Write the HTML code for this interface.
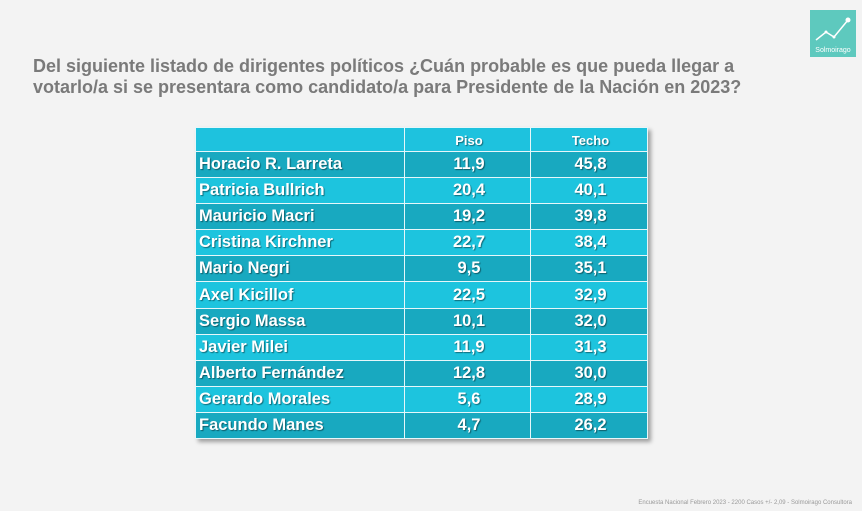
<!DOCTYPE html>
<html><head><meta charset="utf-8"><style>
body{margin:0;width:862px;height:511px;background:#f3f3f3;font-family:"Liberation Sans",sans-serif;position:relative;overflow:hidden}
.t{position:absolute;left:33px;top:56px;font-size:18px;font-weight:bold;color:#7a7a7a;line-height:21px}
table{position:absolute;left:195px;top:127px;border-collapse:collapse;box-shadow:3px 3px 4px rgba(0,0,0,.35)}
td{border:1px solid #e6f7fa;color:#fff;font-weight:bold;font-size:16.5px;height:25.1px;padding:0 0 0 3px;text-shadow:1px 1px 1px rgba(0,0,0,.45);text-align:center}
td:first-child{text-align:left;width:205px}
td:nth-child(2){width:122px}td:nth-child(3){width:113px}
tr.h td{height:21px;font-size:13px;padding-top:2px;background:#1ec2de}
tr:nth-child(even) td{background:#18a9c0}
tr:nth-child(odd):not(.h) td{background:#1dc4de}
.logo{position:absolute;left:810px;top:10px;width:46px;height:47px;background:#5ec9be}
.f{position:absolute;right:10px;top:500px;font-size:6px;color:#999}
</style></head><body>
<div class="t">Del siguiente listado de dirigentes políticos ¿Cuán probable es que pueda llegar a<br>votarlo/a si se presentara como candidato/a para Presidente de la Nación en 2023?</div>
<div class="logo"><svg width="46" height="47"><polyline points="6,30 16,22 24,27 38,10" fill="none" stroke="#fff" stroke-width="1.5"/><circle cx="38" cy="10" r="2.5" fill="#fff"/><circle cx="24" cy="27" r="1.5" fill="#fff"/><circle cx="16" cy="22" r="1.5" fill="#fff"/><text x="23" y="42" font-size="7" fill="#fff" text-anchor="middle" font-family="Liberation Sans">Solmoirago</text></svg></div>
<table>
<tr class="h"><td></td><td>Piso</td><td>Techo</td></tr>
<tr><td>Horacio R. Larreta</td><td>11,9</td><td>45,8</td></tr>
<tr><td>Patricia Bullrich</td><td>20,4</td><td>40,1</td></tr>
<tr><td>Mauricio Macri</td><td>19,2</td><td>39,8</td></tr>
<tr><td>Cristina Kirchner</td><td>22,7</td><td>38,4</td></tr>
<tr><td>Mario Negri</td><td>9,5</td><td>35,1</td></tr>
<tr><td>Axel Kicillof</td><td>22,5</td><td>32,9</td></tr>
<tr><td>Sergio Massa</td><td>10,1</td><td>32,0</td></tr>
<tr><td>Javier Milei</td><td>11,9</td><td>31,3</td></tr>
<tr><td>Alberto Fernández</td><td>12,8</td><td>30,0</td></tr>
<tr><td>Gerardo Morales</td><td>5,6</td><td>28,9</td></tr>
<tr><td>Facundo Manes</td><td>4,7</td><td>26,2</td></tr>
</table>
<div class="f">Encuesta Nacional Febrero 2023 - 2200 Casos +/- 2,09 - Solmoirago Consultora</div>
</body></html>
